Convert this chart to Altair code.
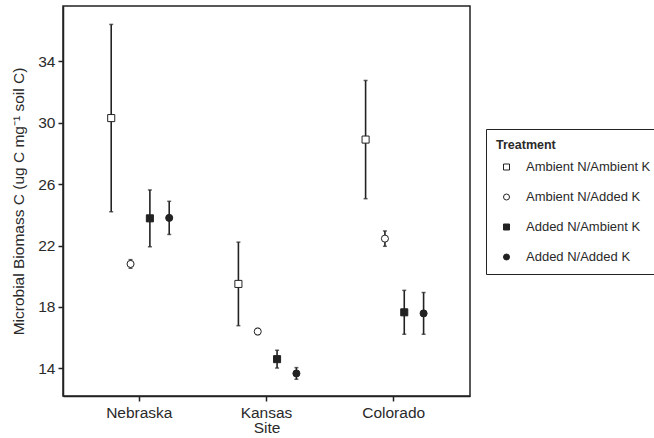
import altair as alt
import pandas as pd

sites = ["Nebraska", "Kansas", "Colorado"]
treatments = ["Ambient N/Ambient K", "Ambient N/Added K", "Added N/Ambient K", "Added N/Added K"]
# means per site, in treatment order
nebraska_mean = [30.3, 20.8, 23.77, 23.8]
kansas_mean = [19.5, 16.4, 14.6, 13.67]
colorado_mean = [28.9, 22.45, 17.65, 17.58]
# half-widths of error bars
nebraska_err = [6.1, 0.28, 1.85, 1.08]
kansas_err = [2.72, 0.2, 0.58, 0.38]
colorado_err = [3.85, 0.5, 1.43, 1.36]

rows = []
for site, means, errs in [("Nebraska", nebraska_mean, nebraska_err),
                          ("Kansas", kansas_mean, kansas_err),
                          ("Colorado", colorado_mean, colorado_err)]:
    for t, m, e in zip(treatments, means, errs):
        rows.append({"Site": site, "Treatment": t, "mean": m, "lo": m - e, "hi": m + e})
df = pd.DataFrame(rows)

FONT = "Liberation Sans"
DARK = "#222222"
TXT = "#2a2a2a"
YDOM = [12.2, 37.6]
FS = 15.5

x = alt.X("Site:N", sort=sites,
          scale=alt.Scale(type="band", paddingInner=0, paddingOuter=0.1),
          axis=alt.Axis(title="Site", labelAngle=0, labelFontSize=FS, titleFontSize=FS,
                        titleFontWeight="normal", labelColor=TXT, titleColor=TXT,
                        tickSize=5, tickColor=DARK, domainColor=DARK, domainWidth=1.5,
                        tickWidth=1.5, labelPadding=4, titlePadding=0, grid=False))
xo = alt.XOffset("Treatment:N", sort=treatments,
                 scale=alt.Scale(type="point", padding=0, range=[35.5, 93.5]))

base = alt.Chart(df)

ycfg = alt.Y("mean:Q",
             scale=alt.Scale(domain=YDOM, nice=False, zero=False),
             axis=alt.Axis(values=[14, 18, 22, 26, 30, 34],
                           title="Microbial Biomass C (ug C mg\u207b\u00b9 soil C)",
                           labelFontSize=FS, titleFontSize=FS, titleFontWeight="normal",
                           labelColor=TXT, titleColor=TXT, tickSize=5, tickColor=DARK,
                           domainColor=DARK, domainWidth=1.5, tickWidth=1.5,
                           labelPadding=3, titlePadding=11, grid=False))

rules = base.mark_rule(color=DARK, strokeWidth=1.6).encode(
    x=x, xOffset=xo,
    y=alt.Y("lo:Q", scale=alt.Scale(domain=YDOM, nice=False, zero=False)),
    y2="hi:Q")
cap_lo = base.mark_tick(color=DARK, orient="horizontal", size=4, thickness=1.5).encode(
    x=x, xOffset=xo, y="lo:Q")
cap_hi = base.mark_tick(color=DARK, orient="horizontal", size=4, thickness=1.5).encode(
    x=x, xOffset=xo, y="hi:Q")

leg = alt.Legend(title="Treatment")

points = base.mark_point(filled=True, strokeWidth=1, size=50, opacity=1).encode(
    x=x, xOffset=xo, y=ycfg,
    shape=alt.Shape("Treatment:N", sort=treatments,
                    scale=alt.Scale(domain=treatments, range=["square", "circle", "square", "circle"]),
                    legend=leg),
    fill=alt.Fill("Treatment:N", sort=treatments,
                  scale=alt.Scale(domain=treatments, range=["white", "white", DARK, DARK]),
                  legend=leg),
    stroke=alt.Stroke("Treatment:N", sort=treatments,
                      scale=alt.Scale(domain=treatments, range=[DARK, DARK, DARK, DARK]),
                      legend=leg),
)

chart = alt.layer(rules, cap_lo, cap_hi, points).resolve_scale(y="shared").properties(
    width=407, height=390,
    autosize=alt.AutoSizeParams(type="none"),
    padding={"left": 63, "top": 6, "right": 184, "bottom": 42},
    background="white",
).configure_view(
    stroke=DARK, strokeWidth=1.5
).configure_axis(
    labelFont=FONT, titleFont=FONT
).configure_legend(
    orient="none", legendX=423, legendY=123,
    titleFont=FONT, labelFont=FONT, titleFontSize=12.5, labelFontSize=13,
    titleColor=TXT, labelColor=TXT,
    strokeColor=DARK, strokeWidth=1, padding=10, fillColor="white",
    symbolSize=36, symbolOffset=4, symbolStrokeWidth=1,
    labelOffset=13, rowPadding=16, titlePadding=9, labelLimit=300,
)

chart.save("out.html", embed_options={"renderer": "svg", "actions": False})
